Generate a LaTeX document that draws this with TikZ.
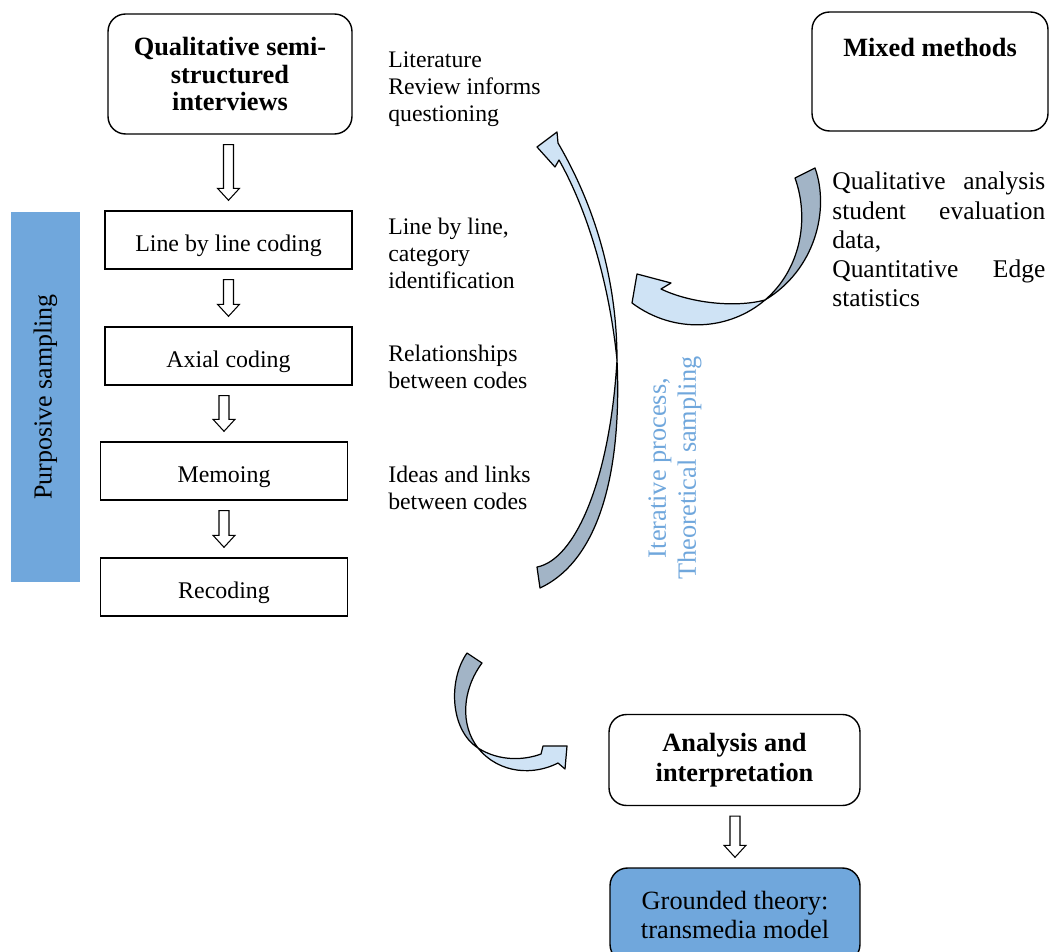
\documentclass[tikz,border=0pt]{standalone}
\usepackage{fontspec}
\setmainfont{Liberation Serif}
\usetikzlibrary{arrows.meta,calc,positioning}
\definecolor{SampleBlue}{RGB}{112,167,220}
\definecolor{RibbonFront}{RGB}{207,227,245}
\definecolor{RibbonBack}{RGB}{162,180,198}
\newcommand{\hollowarrow}[2]{%
  \draw[line width=0.6pt,fill=white] ($(#1.south -| #2.north)+(-5,10)$) -- ($(#2.north)+(-5,-22)$)
    -- ($(#2.north)+(-11,-22)$) -- ($(#2.north)+(0,-10)$) -- ($(#2.north)+(11,-22)$)
    -- ($(#2.north)+(5,-22)$) -- ($(#1.south -| #2.north)+(5,10)$) -- cycle;}

\begin{document}
\begin{tikzpicture}[x=0.02cm,y=-0.02cm,
    roundbox/.style={draw,rounded corners=0.35cm,line width=0.8pt,align=center,
      font=\fontsize{15}{15.8}\selectfont\bfseries},
    codebox/.style={draw,line width=0.8pt,minimum width=4.94cm,minimum height=1.16cm,
      text height=0.45cm,text depth=0cm,font=\fontsize{13.6}{15.5}\selectfont},
    note/.style={anchor=west,align=left,inner sep=0pt,font=\fontsize{13.5}{15.4}\selectfont},
    ribbon/.style={draw=black,line width=0.7pt,line join=round}]
  \useasboundingbox (0,0) rectangle (1050,952);

  \node[roundbox,minimum width=4.88cm,minimum height=2.4cm] (interviews) at (230,74)
    {Qualitative semi-\\structured\\interviews};
  \node[codebox] (linecoding) at (228.5,240) {Line by line coding};
  \node[codebox] (axial) at (228.5,356) {Axial coding};
  \node[codebox] (memo) at (224,471) {Memoing};
  \node[codebox] (recode) at (224,587) {Recoding};
  \node[fill=SampleBlue,rotate=90,minimum width=7.4cm,minimum height=1.38cm,
    font=\fontsize{14.8}{16}\selectfont] (purposive) at (45.5,397) {Purposive sampling};

  \hollowarrow{interviews}{linecoding}
  \hollowarrow{linecoding}{axial}
  \hollowarrow{axial}{memo}
  \hollowarrow{memo}{recode}

  \node[note] (litnote) at (388,89) {Literature\\Review informs\\questioning};
  \node[note] (linenote) at (388,253) {Line by line,\\category\\identification};
  \node[note] (axialnote) at (388,366.5) {Relationships\\between codes};
  \node[note] (memonote) at (388,487.5) {Ideas and links\\between codes};

  \node[roundbox,minimum width=4.72cm,minimum height=2.38cm] (mixed) at (930,71.5) {};
  \node[font=\fontsize{15}{15.8}\selectfont\bfseries] (mixedtitle) at (930,47) {Mixed methods};
  \node[note,text width=4.26cm,font=\fontsize{14.5}{16.6}\selectfont] (mixednote) at (832,239.5)
    {Qualitative\hfill analysis\\student\hfill evaluation\\data,\\Quantitative\hfill Edge\\statistics};

  \node[rotate=90,align=center,text=SampleBlue,font=\fontsize{15}{17}\selectfont] (iterative)
    at (675,468) {Iterative process,\\Theoretical sampling};

  \node[roundbox,minimum width=5.02cm,minimum height=1.82cm,
    font=\fontsize{15}{17}\selectfont\bfseries] (analysis) at (734.5,760) {Analysis and\\interpretation};
  \node[roundbox,fill=SampleBlue,minimum width=5.0cm,minimum height=1.88cm,
    font=\fontsize{15}{17}\selectfont] (grounded) at (735,915) {Grounded theory:\\transmedia model};
  \hollowarrow{analysis}{grounded}

  \filldraw[ribbon,fill=RibbonBack] (537,567) .. controls (575,560) and (610,480) .. (617,360)
    .. controls (622,470) and (600,560) .. (540,588) -- cycle;
  \filldraw[ribbon,fill=RibbonFront] (617,360) .. controls (617,290) and (600,215) .. (558,143)
    -- (557,132) -- (537,147) -- (555,167) -- (559,160) .. controls (590,215) and (610,290) .. (617,360) -- cycle;

  \filldraw[ribbon,fill=RibbonBack] (795,178) -- (815,168) .. controls (830,210) and (815,270) .. (765,300)
    .. controls (800,270) and (810,220) .. (795,178) -- cycle;
  \filldraw[ribbon,fill=RibbonFront] (765,300) .. controls (730,330) and (675,335) .. (632,303)
    -- (637,274) -- (671,283) -- (661,289) .. controls (690,303) and (735,308) .. (765,300) -- cycle;

  \filldraw[ribbon,fill=RibbonBack] (467,653) -- (482,663) .. controls (462,690) and (460,725) .. (478,748)
    .. controls (450,730) and (448,680) .. (467,653) -- cycle;
  \filldraw[ribbon,fill=RibbonFront] (478,748) .. controls (500,762) and (525,760) .. (541,754)
    -- (543,746) -- (567,746) -- (565,769) -- (558,763) .. controls (535,775) and (500,775) .. (478,748) -- cycle;
\end{tikzpicture}
\end{document}
